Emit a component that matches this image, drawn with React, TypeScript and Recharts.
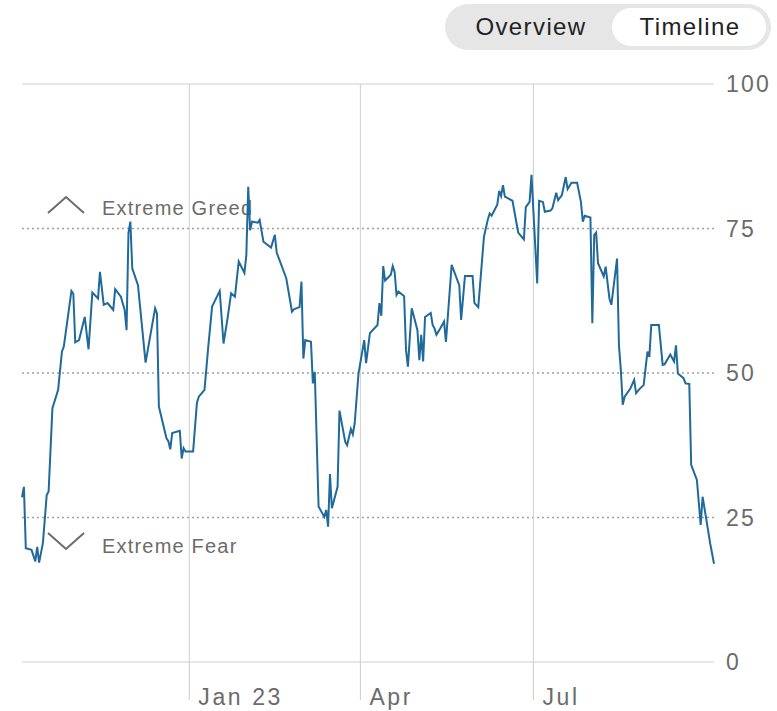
import React from "react";
import { LineChart, Line, XAxis, YAxis, ReferenceLine } from "recharts";

// day offsets from 1 Jan 2023
const days = [
  -88, -87, -86, -83, -81, -80, -79, -77, -75, -74, -72, -69, -67, -66, -62, -61, -60, -58, -55, -53,
  -51, -48, -47, -45, -43, -40, -39, -36, -34, -33, -32, -31, -30, -27, -23, -18, -17, -16, -12, -11,
  -10, -9, -5, -4, -3, -2, 2, 4, 5, 8, 10, 12, 16, 18, 20, 22, 24, 26, 29, 30,
  31, 32, 33, 36, 37, 39, 43, 45, 46, 51, 54, 55, 58, 59, 60, 61, 64, 65, 66, 68,
  71, 72, 73, 74, 75, 78, 79, 82, 83, 85, 86, 87, 89, 92, 93, 95, 99, 100, 101, 102,
  103, 106, 107, 108, 109, 110, 113, 114, 115, 117, 120, 121, 122, 123, 124, 127, 128, 129, 130, 132,
  134, 135, 138, 142, 143, 145, 149, 150, 152, 155, 157, 158, 159, 162, 163, 164, 165, 166, 170, 173,
  176, 177, 179, 180, 183, 184, 186, 187, 190, 191, 193, 194, 196, 198, 199, 201, 204, 206, 207, 208,
  211, 212, 213, 214, 215, 218, 219, 221, 222, 225, 226, 227, 228, 229, 232, 234, 235, 237, 239, 241,
  242, 243, 247, 249, 250, 253, 255, 256, 257, 260, 261, 263, 264, 267, 269, 270, 272, 274, 276,
];

const values = [
  28.5, 30.3, 19.7, 19.4, 17.4, 19.9, 17.2, 20.6, 28.9, 29.5, 43.9, 47.1, 53.7, 54.6, 64.2, 63.7, 55.3, 55.7, 59.7, 54.1,
  63.9, 62.9, 67.5, 61.8, 62.1, 60.9, 64.5, 63.2, 60.9, 57.4, 74.2, 76.2, 68.1, 65.2, 51.8, 61.2, 60.3, 44.2, 38.7, 38.2,
  36.8, 39.6, 40.0, 35.2, 37.0, 36.4, 36.4, 44.8, 45.9, 47.1, 54.6, 61.5, 64.2, 55.1, 59.2, 63.8, 63.2, 69.3, 67.3, 70.4,
  82.2, 74.7, 76.2, 76.0, 76.5, 72.7, 71.7, 73.9, 70.8, 66.4, 60.6, 61.0, 61.4, 65.8, 52.5, 55.7, 55.4, 48.2, 50.2, 26.9,
  25.1, 26.3, 23.4, 32.5, 26.6, 30.3, 43.5, 38.1, 37.5, 40.3, 39.4, 41.3, 49.9, 55.7, 51.7, 56.9, 58.3, 62.1, 59.9, 68.5,
  66.0, 67.0, 68.5, 67.5, 63.5, 64.1, 63.3, 54.0, 51.1, 61.2, 57.4, 52.2, 56.6, 52.0, 59.7, 60.4, 58.3, 57.7, 56.6, 57.7,
  58.9, 55.4, 68.7, 65.2, 59.2, 66.8, 66.8, 62.1, 61.4, 73.6, 76.5, 77.6, 77.2, 79.1, 81.5, 80.6, 82.5, 80.5, 79.8, 74.3,
  73.1, 78.7, 79.6, 84.3, 65.5, 79.8, 79.6, 77.9, 78.1, 78.5, 81.2, 79.9, 80.8, 83.9, 81.8, 82.9, 82.9, 79.6, 76.2, 77.2,
  76.9, 58.6, 73.9, 74.3, 69.0, 66.7, 68.4, 62.9, 61.8, 69.8, 54.8, 50.5, 44.5, 45.9, 47.3, 48.8, 46.5, 47.3, 47.9, 53.7,
  52.8, 58.3, 58.3, 51.4, 51.5, 53.2, 52.0, 54.8, 49.9, 49.1, 48.2, 48.1, 34.1, 31.5, 23.7, 28.6, 24.6, 20.5, 17.0,
];

const xTickDays = [0, 90, 181];
const xTickLabels = ["Jan 23", "Apr", "Jul"];
const yTicks = [0, 25, 50, 75, 100];
const solidLevels = [0, 100];
const dottedLevels = [25, 50, 75];

const data = days.map((d, i) => ({ day: d, value: values[i] }));

const FONT = "'Liberation Sans', Arial, sans-serif";

const XTick = (props: any) => {
  const { x, y, payload } = props;
  const idx = xTickDays.indexOf(payload.value);
  return (
    <text x={x + 9} y={y + 3} fill="#6b6b6b" fontSize={23} fontFamily={FONT} letterSpacing={2.6} textAnchor="start">
      {xTickLabels[idx]}
    </text>
  );
};

const YTick = (props: any) => {
  const { x, y, payload } = props;
  return (
    <text x={x} y={y} dy="0.36em" fill="#6b6b6b" fontSize={23} fontFamily={FONT} letterSpacing={2.2} textAnchor="start">
      {payload.value}
    </text>
  );
};

export default function App() {
  return (
    <div style={{ position: "absolute", left: 0, top: 0, width: 777, height: 711, background: "#fff", fontFamily: FONT }}>
      {/* toggle */}
      <div style={{ position: "absolute", left: 445, top: 4, width: 326, height: 46, borderRadius: 23, background: "#e6e6e6" }} />
      <div style={{ position: "absolute", left: 612, top: 8, width: 154, height: 38, borderRadius: 19, background: "#fff" }} />
      <div style={{ position: "absolute", left: 445, top: 4, width: 172, height: 46, lineHeight: "46px", textAlign: "center", fontSize: 24, color: "#222", letterSpacing: 1.4 }}>
        Overview
      </div>
      <div style={{ position: "absolute", left: 612, top: 4, width: 156, height: 46, lineHeight: "46px", textAlign: "center", fontSize: 24, color: "#222", letterSpacing: 1.4 }}>
        Timeline
      </div>

      {/* annotations (behind the line) */}
      <svg style={{ position: "absolute", left: 0, top: 0 }} width={777} height={711}>
        <polyline points="48,213 66,197 84,213" fill="none" stroke="#6b6b6b" strokeWidth={2} />
        <text x={102} y={215} fontSize={20} fill="#6b6b6b" fontFamily={FONT} letterSpacing={1.2}>Extreme Greed</text>
        <polyline points="48,533 66,549 84,533" fill="none" stroke="#6b6b6b" strokeWidth={2} />
        <text x={102} y={553} fontSize={20} fill="#6b6b6b" fontFamily={FONT} letterSpacing={1.2}>Extreme Fear</text>
      </svg>

      <div style={{ position: "absolute", left: 0, top: 0 }}>
        <LineChart width={777} height={711} data={data} margin={{ top: 84, right: 0, bottom: 0, left: 22 }}>
          <XAxis
            dataKey="day"
            type="number"
            domain={[-88, 276]}
            ticks={xTickDays}
            interval={0}
            axisLine={false}
            tickLine={{ stroke: "#cccccc", strokeWidth: 1 }}
            tickSize={38}
            tickMargin={2}
            height={49}
            tick={<XTick />}
          />
          <YAxis
            orientation="right"
            type="number"
            domain={[0, 100]}
            ticks={yTicks}
            interval={0}
            axisLine={false}
            tickLine={false}
            tickSize={0}
            tickMargin={12}
            width={63}
            tick={<YTick />}
          />
          {solidLevels.map((v) => (
            <ReferenceLine key={"s" + v} y={v} stroke="#cfcfcf" strokeWidth={1} />
          ))}
          {dottedLevels.map((v) => (
            <ReferenceLine key={"d" + v} y={v} stroke="#a0a0a0" strokeWidth={1.3} strokeDasharray="2 3" />
          ))}
          {xTickDays.map((d) => (
            <ReferenceLine key={"x" + d} x={d} stroke="#cfcfcf" strokeWidth={1} />
          ))}
          <Line
            type="linear"
            dataKey="value"
            stroke="#1f6a9b"
            strokeWidth={2}
            dot={false}
            isAnimationActive={false}
          />
        </LineChart>
      </div>
    </div>
  );
}
